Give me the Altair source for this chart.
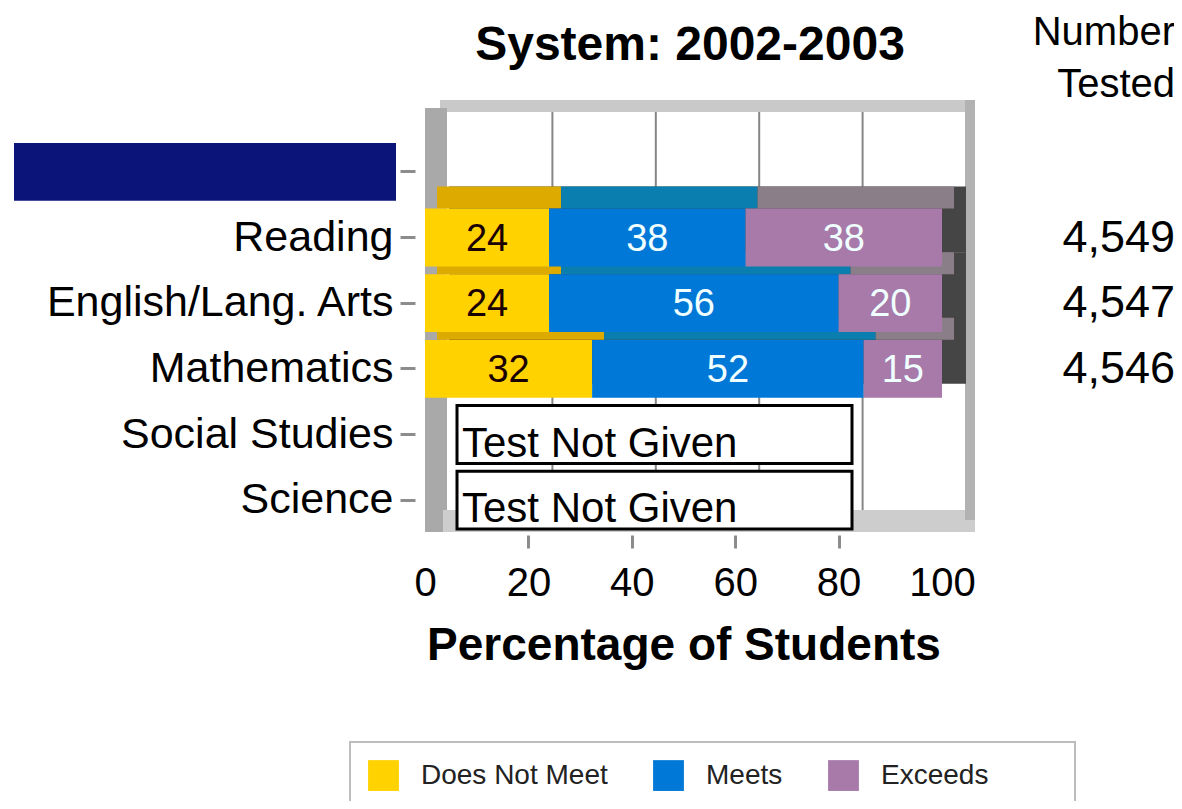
import altair as alt
import pandas as pd

# ---------------- data ----------------
subjects = [" ", "Reading", "English/Lang. Arts", "Mathematics", "Social Studies", "Science"]
tested = ["Reading", "English/Lang. Arts", "Mathematics"]
levels = ["Does Not Meet", "Meets", "Exceeds"]
does_not_meet = [24, 24, 32]
meets = [38, 56, 52]
exceeds = [38, 20, 15]
number_tested = [4549, 4547, 4546]
not_given = ["Social Studies", "Science"]
x_ticks = [0, 20, 40, 60, 80, 100]
grid_values = [20, 40, 60, 80]
title_text = "System: 2002-2003"
header_lines = ["Number", "Tested"]
not_given_text = "Test Not Given"
x_title = "Percentage of Students"

# ---------------- styles ----------------
FONT = "Liberation Sans"
front_colors = ["#FFD200", "#0078D7", "#A77AAA"]
top_colors = ["#DDAA00", "#0A7EAE", "#8A7E88"]

rows = []
for i, s in enumerate(tested):
    vals = [does_not_meet[i], meets[i], exceeds[i]]
    total = sum(vals)
    acc = 0
    for lv, v in zip(levels, vals):
        start = acc / total * 100
        acc += v
        end = acc / total * 100
        rows.append({"subject": s, "level": lv, "value": v,
                     "start": start, "end": end, "mid": (start + end) / 2})
bars = pd.DataFrame(rows)
one = pd.DataFrame({"k": [0]})

xs = alt.Scale(domain=[0, 100], range=[0, 517], nice=False, zero=False)
ys = alt.Scale(domain=subjects, range=[39, 433], paddingInner=0.12, paddingOuter=0.06)

x_axis = alt.Axis(values=x_ticks, labelFontSize=40, tickSize=13, tickWidth=3,
                  tickColor={"condition": {"test": "datum.value == 0 || datum.value == 100",
                                           "value": "transparent"},
                             "value": "#8c8c8c"},
                  domain=False, grid=False, labelFlush=False,
                  labelOverlap=False, labelPadding=15, labelColor="black",
                  title=x_title, titleFontSize=46, titleFontWeight="bold",
                  titlePadding=20, titleColor="black")
y_axis = alt.Axis(labelFontSize=43, labelColor="black", tickColor="#8c8c8c", tickSize=15,
                  tickWidth=3, offset=10, domain=False, labelPadding=7, title=None,
                  labelLimit=600, grid=False)


def X(field):
    return alt.X(field, scale=xs, axis=x_axis)


def Y():
    return alt.Y("subject:N", scale=ys, axis=y_axis, sort=None)


# ---------------- 3D frame ----------------
top_bar = alt.Chart(one).mark_rect(color="#c9c9c9").encode(
    x=alt.value(15), x2=alt.value(550), y=alt.value(0), y2=alt.value(12))
left_wall = alt.Chart(one).mark_rect(color="#a9a9a9").encode(
    x=alt.value(0), x2=alt.value(22), y=alt.value(8), y2=alt.value(432))
floor = alt.Chart(one).mark_rect(color="#cdcdcd").encode(
    x=alt.value(18), x2=alt.value(550), y=alt.value(410), y2=alt.value(432))
right_wall = alt.Chart(one).mark_rect(color="#b2b2b2").encode(
    x=alt.value(540), x2=alt.value(550), y=alt.value(0), y2=alt.value(420))

grid = alt.Chart(pd.DataFrame({"g": grid_values})).mark_rule(
    color="#868686", strokeWidth=2, xOffset=24).encode(
    x=X("g:Q"), y=alt.value(12), y2=alt.value(410))

# ---------------- bars ----------------
depth_side = alt.Chart(bars).mark_bar(
    color="#454545", height=66, xOffset=24, x2Offset=24, yOffset=-18).encode(
    x=X("min(start):Q"),
    x2="max(end):Q",
    y=Y())

depth_top = alt.Chart(bars).mark_bar(
    height=22, yOffset=-40, xOffset=12, x2Offset=12).encode(
    x=X("start:Q"),
    x2="end:Q",
    y=Y(),
    color=alt.Color("level:N", scale=alt.Scale(domain=levels, range=top_colors), legend=None))

front = alt.Chart(bars).mark_bar().encode(
    x=X("start:Q"),
    x2="end:Q",
    y=Y(),
    color=alt.Color("level:N", scale=alt.Scale(domain=levels, range=front_colors),
                    legend=alt.Legend(orient="none", legendX=-57, legendY=660,
                                      direction="horizontal", title=None,
                                      padding=0, symbolType="square", symbolSize=950,
                                      symbolStrokeWidth=0, labelFontSize=28,
                                      labelOffset=22, columnPadding=45, labelLimit=400,
                                      labelColor="#222222")))

legend_box = alt.Chart(one).mark_rect(fill="white", stroke="#bdbdbd", strokeWidth=2).encode(
    x=alt.value(-75), x2=alt.value(650), y=alt.value(642), y2=alt.value(720))

labels = alt.Chart(bars).mark_text(fontSize=38, dy=2).encode(
    x=X("mid:Q"),
    y=Y(),
    text="value:Q",
    color=alt.condition(alt.datum.level == "Does Not Meet",
                        alt.value("#1a0000"), alt.value("#F0FFFF")))

# ---------------- not given ----------------
ng_df = pd.DataFrame({"subject": not_given})
ng_box = alt.Chart(ng_df).mark_bar(fill="white", stroke="black", strokeWidth=3).encode(
    x=alt.value(32), x2=alt.value(427), y=Y())
ng_text = alt.Chart(ng_df).mark_text(align="left", baseline="alphabetic", dy=22,
                                      fontSize=42, color="black").encode(
    x=alt.value(37), y=Y(), text=alt.value(not_given_text))

# ---------------- extras ----------------
navy = alt.Chart(pd.DataFrame({"subject": [subjects[0]]})).mark_bar(color="#0B1478").encode(
    x=alt.value(-411), x2=alt.value(-29), y=Y())

nt = alt.Chart(pd.DataFrame({"subject": tested, "n": number_tested})).mark_text(
    fontSize=45, align="right", color="black").encode(
    x=alt.value(750), y=Y(), text=alt.Text("n:Q", format=","))

header1 = alt.Chart(one).mark_text(fontSize=40, align="right", baseline="alphabetic",
                                   color="black").encode(
    x=alt.value(750), y=alt.value(-55), text=alt.value(header_lines[0]))
header2 = alt.Chart(one).mark_text(fontSize=40, align="right", baseline="alphabetic",
                                   color="black").encode(
    x=alt.value(750), y=alt.value(-3), text=alt.value(header_lines[1]))

title = alt.Chart(one).mark_text(fontSize=48, fontWeight="bold", align="center",
                                 baseline="alphabetic", color="black").encode(
    x=alt.value(265), y=alt.value(-40), text=alt.value(title_text))

chart = alt.layer(
    top_bar, left_wall, floor, right_wall, grid,
    depth_side, depth_top, front, labels,
    ng_box, ng_text, navy, nt, header1, header2, title, legend_box
).resolve_scale(color="independent").properties(
    width=560, height=435,
    autosize=alt.AutoSizeParams(type="none"),
    padding={"left": 417, "top": 92, "right": 189, "bottom": 266},
).configure(font=FONT).configure_view(stroke=None)

chart.save("out.html", embed_options={"renderer": "svg", "actions": False})
